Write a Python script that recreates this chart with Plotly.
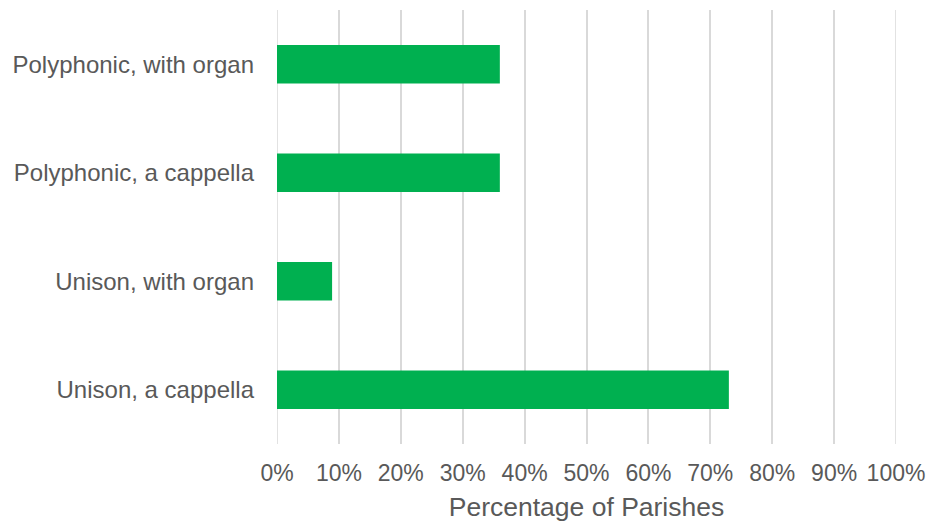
import plotly.graph_objects as go

categories = ["Unison, a cappella", "Unison, with organ", "Polyphonic, a cappella", "Polyphonic, with organ"]
values = [0.73, 0.089, 0.36, 0.36]
tick_vals = [0, 0.1, 0.2, 0.3, 0.4, 0.5, 0.6, 0.7, 0.8, 0.9, 1.0]
tick_text = ["0%", "10%", "20%", "30%", "40%", "50%", "60%", "70%", "80%", "90%", "100%"]

fig = go.Figure(go.Bar(
    x=values, y=categories, orientation="h",
    marker=dict(color="#00B050", line=dict(width=0)),
))

# edge gridlines (0% and 100%), which plotly omits at the plot borders
for v in (tick_vals[0], tick_vals[-1]):
    fig.add_shape(type="line", xref="x", yref="paper", x0=v, x1=v, y0=0, y1=1,
                  line=dict(color="#d9d9d9", width=1.5), layer="below")

fig.update_layout(
    width=930, height=522,
    margin=dict(l=277, r=34, t=10, b=78, autoexpand=False),
    paper_bgcolor="white", plot_bgcolor="white",
    bargap=0.646,
    showlegend=False,
    font=dict(family="Liberation Sans, Arial, sans-serif", size=23, color="#595959"),
)
fig.update_xaxes(
    range=[0, 1.0], tickvals=tick_vals, ticktext=tick_text,
    showgrid=True, gridcolor="#d9d9d9", gridwidth=1.5,
    zeroline=False, showline=False, automargin=False,
    ticks="", ticklabelstandoff=13,
    title=dict(text="Percentage of Parishes", standoff=17, font=dict(size=26.5)),
)
fig.update_yaxes(
    showgrid=False, zeroline=False, showline=False, automargin=False,
    ticks="", ticklabelstandoff=22, tickfont=dict(size=24),
)

fig.write_html("out.html")
